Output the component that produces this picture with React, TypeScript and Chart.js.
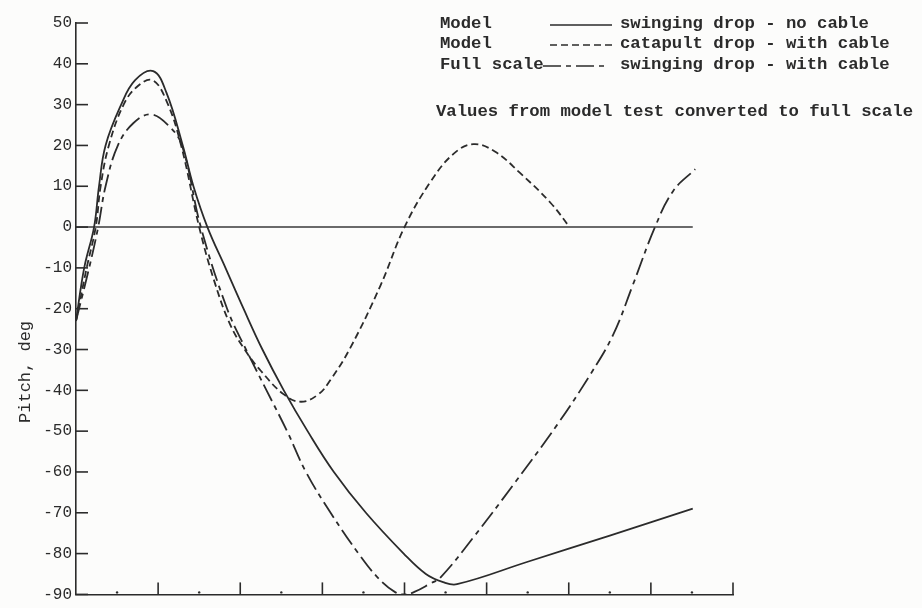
import React, { useEffect, useRef } from "react";
import { Chart, registerables } from "chart.js";

Chart.register(...registerables);

// ---- data ----
const yMin = -90;
const yMax = 50;
const yStep = 10;
const xTicks = [0, 1, 2, 3, 4, 5, 6, 7, 8];

// Model, swinging drop - no cable (solid)
const noCableX = [0, 0.1, 0.22, 0.28, 0.36, 0.55, 0.72, 0.94, 1.1, 1.3, 1.43, 1.6, 1.82, 2.04, 2.27, 2.53, 2.82, 3.14, 3.53, 3.99, 4.26, 4.47, 4.64, 5.5, 6.5, 7.51];
const noCableY = [-23, -10, 0, 10, 20, 30, 36, 38.2, 33, 20, 10, 0, -10, -20, -30, -40, -50, -60, -70, -80, -85, -87, -87.5, -82, -75.6, -69];

// Model, catapult drop - with cable (dashed)
const catapultX = [0, 0.13, 0.24, 0.3, 0.4, 0.58, 0.75, 0.93, 1.1, 1.28, 1.5, 1.68, 1.88, 2.07, 2.25, 2.53, 2.74, 2.95, 3.1, 3.34, 3.71, 4.0, 4.32, 4.6, 4.84, 5.1, 5.41, 5.78, 6.01];
const catapultY = [-23, -10, 0, 10, 20, 30, 34.5, 36, 31, 20, 0, -13, -24, -30.5, -35.2, -41, -42.8, -41, -37.4, -29.6, -14.2, 0, 11.2, 18, 20.3, 18.5, 13.2, 5.9, 0];

// Full scale, swinging drop - with cable (long-short dash)
const fullScaleX = [0, 0.16, 0.27, 0.36, 0.51, 0.7, 0.91, 1.12, 1.29, 1.52, 1.84, 2.07, 2.32, 2.57, 2.8, 3.1, 3.44, 3.68, 3.89, 4.01, 4.12, 4.3, 4.44, 4.84, 5.33, 5.86, 6.26, 6.54, 6.78, 7.05, 7.27, 7.54];
const fullScaleY = [-23, -10, 0, 10, 20, 25.5, 27.6, 25, 20, 0, -20, -30, -40, -50, -60, -70, -80, -86, -89.5, -90, -89.4, -87.5, -85.8, -76, -63, -48.4, -36.2, -26.4, -14.2, 0, 8.8, 14.2];

// zero reference line
const zeroLineX = [0, 7.51];
const zeroLineY = [0, 0];

const legendSources = ["Model", "Model", "Full scale"];
const legendDescriptions = [
  "swinging drop - no cable",
  "catapult drop - with cable",
  "swinging drop - with cable",
];
const noteText = "Values from model test converted to full scale";
const yAxisTitle = "Pitch, deg";

// ---- styles ----
const INK = "#2b2b2b";
const MONO = '"Liberation Mono", "DejaVu Sans Mono", monospace';
const dashSolid: number[] = [];
const dashShort = [7, 4];
const dashLongShort = [18, 5, 5, 5];

const zip = (xs: number[], ys: number[]) => xs.map((x, i) => ({ x, y: ys[i] }));

const decorPlugin = {
  id: "decor",
  beforeDraw(chart: any) {
    const { ctx } = chart;
    ctx.save();
    ctx.fillStyle = "#fcfcfb";
    ctx.fillRect(0, 0, chart.width, chart.height);
    ctx.restore();
  },
  afterDraw(chart: any) {
    const { ctx, chartArea, scales } = chart;
    const xs = scales.x;
    const ys = scales.y;
    ctx.save();
    ctx.strokeStyle = INK;
    ctx.fillStyle = INK;
    ctx.lineWidth = 1.6;
    // y ticks pointing inward
    for (let v = yMin; v <= yMax; v += yStep) {
      const py = ys.getPixelForValue(v);
      ctx.beginPath();
      ctx.moveTo(chartArea.left, py);
      ctx.lineTo(chartArea.left + 12, py);
      ctx.stroke();
    }
    // x ticks pointing upward, with small dots at the halves
    xTicks.forEach((t, i) => {
      if (t > 0) {
        const px = xs.getPixelForValue(t);
        ctx.beginPath();
        ctx.moveTo(px, chartArea.bottom);
        ctx.lineTo(px, chartArea.bottom - 12);
        ctx.stroke();
      }
      if (i < xTicks.length - 1) {
        const pm = xs.getPixelForValue((t + xTicks[i + 1]) / 2);
        ctx.beginPath();
        ctx.arc(pm, chartArea.bottom - 2, 1.2, 0, Math.PI * 2);
        ctx.fill();
      }
    });

    // y axis title
    ctx.save();
    ctx.font = `17px ${MONO}`;
    ctx.textAlign = "center";
    ctx.textBaseline = "middle";
    ctx.translate(25, ys.getPixelForValue(-35.5));
    ctx.rotate(-Math.PI / 2);
    ctx.fillText(yAxisTitle, 0, 0);
    ctx.restore();

    // legend
    const dashes = [dashSolid, dashShort, dashLongShort];
    const rowsY = [24, 44, 65];
    ctx.font = `bold 17.3px ${MONO}`;
    ctx.textBaseline = "middle";
    ctx.textAlign = "left";
    legendSources.forEach((src, i) => {
      const y = rowsY[i];
      ctx.fillText(src, 440, y);
      ctx.save();
      ctx.setLineDash(dashes[i]);
      ctx.lineWidth = 1.6;
      ctx.beginPath();
      const x0 = i === 2 ? 543 : 550;
      ctx.moveTo(x0, y + 1);
      ctx.lineTo(x0 + 62, y + 1);
      ctx.stroke();
      ctx.restore();
      ctx.fillText(legendDescriptions[i], 620, y);
    });
    ctx.fillText(noteText, 436, 112);
    ctx.restore();
  },
};

export default function App() {
  const ref = useRef<HTMLCanvasElement | null>(null);

  useEffect(() => {
    document.body.style.margin = "0";
    if (!ref.current) return;
    const lineBase = {
      borderColor: INK,
      borderWidth: 1.8,
      pointRadius: 0,
      fill: false,
      tension: 0.4,
    };
    const chart = new Chart(ref.current, {
      type: "line",
      data: {
        datasets: [
          {
            ...lineBase,
            label: "zero",
            data: zip(zeroLineX, zeroLineY),
            borderWidth: 1.6,
            borderColor: "#3a3a3a",
            tension: 0,
            order: 4,
          },
          {
            ...lineBase,
            label: `${legendSources[0]} ${legendDescriptions[0]}`,
            data: zip(noCableX, noCableY),
            borderDash: dashSolid,
            order: 1,
          },
          {
            ...lineBase,
            label: `${legendSources[1]} ${legendDescriptions[1]}`,
            data: zip(catapultX, catapultY),
            borderDash: dashShort,
            order: 2,
          },
          {
            ...lineBase,
            label: `${legendSources[2]} ${legendDescriptions[2]}`,
            data: zip(fullScaleX, fullScaleY),
            borderDash: dashLongShort,
            order: 3,
          },
        ],
      },
      options: {
        responsive: false,
        animation: false,
        layout: { padding: { left: 0, right: 189, top: 23, bottom: 0 } },
        plugins: {
          legend: { display: false },
          tooltip: { enabled: false },
          title: { display: false },
        },
        scales: {
          x: {
            type: "linear",
            min: xTicks[0],
            max: xTicks[xTicks.length - 1],
            ticks: { display: false, stepSize: 1 },
            grid: { display: false },
            border: { display: true, color: INK, width: 1.6 },
            afterFit(scale: any) {
              scale.height = 11;
            },
          },
          y: {
            type: "linear",
            min: yMin,
            max: yMax,
            ticks: {
              stepSize: yStep,
              padding: 4,
              color: INK,
              font: { family: MONO, size: 16 },
            },
            grid: { display: false, drawTicks: false },
            border: { display: true, color: INK, width: 1.6 },
            afterFit(scale: any) {
              scale.width = 76;
            },
          },
        },
      },
      plugins: [decorPlugin],
    });
    return () => chart.destroy();
  }, []);

  return (
    <div style={{ width: 922, height: 608 }}>
      <canvas ref={ref} width={922} height={608} />
    </div>
  );
}
